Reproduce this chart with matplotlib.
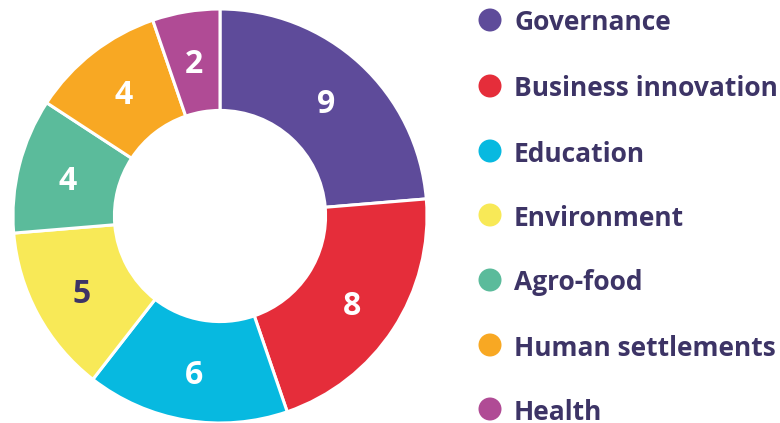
import matplotlib.pyplot as plt
from matplotlib.patches import Circle
import numpy as np

# data
categories = ["Governance", "Business innovation", "Education", "Environment",
              "Agro-food", "Human settlements", "Health"]
counts = [9, 8, 6, 5, 4, 4, 2]
colors = ["#5E4B9A", "#E52D3A", "#07B9E0", "#F8E957",
          "#5BBB9B", "#F8A823", "#B04B95"]
label_colors = ["white", "white", "white", "#3D3466", "white", "white", "white"]

text_color = "#3D3466"
plt.rcParams["font.family"] = ["Open Sans", "DejaVu Sans"]

W, H = 780, 423
fig = plt.figure(figsize=(W / 100, H / 100), dpi=100)

# donut, center ~ (220, 216) px, radius ~ 207 px
cx, cy, r = 220, 216, 207
ax = fig.add_axes([(cx - r) / W, (H - cy - r) / H, 2 * r / W, 2 * r / H])
wedges, _ = ax.pie(counts, colors=colors, startangle=90, counterclock=False,
                   radius=1.0,
                   wedgeprops=dict(width=0.49, edgecolor="white", linewidth=2.2))
ax.set_xlim(-1, 1)
ax.set_ylim(-1, 1)
ax.set_aspect("equal")
ax.axis("off")

total = sum(counts)
start = 90.0
for val, lc in zip(counts, label_colors):
    ang = start - 360.0 * val / total / 2
    start -= 360.0 * val / total
    x = 0.76 * np.cos(np.radians(ang))
    y = 0.76 * np.sin(np.radians(ang))
    ax.text(x, y, str(val), ha="center", va="center_baseline", fontsize=23,
            fontweight="bold", color=lc)

# legend drawn in pixel coordinates
lax = fig.add_axes([0, 0, 1, 1])
lax.set_xlim(0, W)
lax.set_ylim(H, 0)
lax.axis("off")
lax.set_zorder(-1)
row_y = [20, 86, 151, 215, 280, 345, 409]
for name, col, y in zip(categories, colors, row_y):
    lax.add_patch(Circle((490, y), 11.5, color=col, lw=0))
    lax.text(514, y, name, ha="left", va="center_baseline", fontsize=19,
             fontweight="bold", color=text_color)

fig.savefig("out.png", dpi=100)
